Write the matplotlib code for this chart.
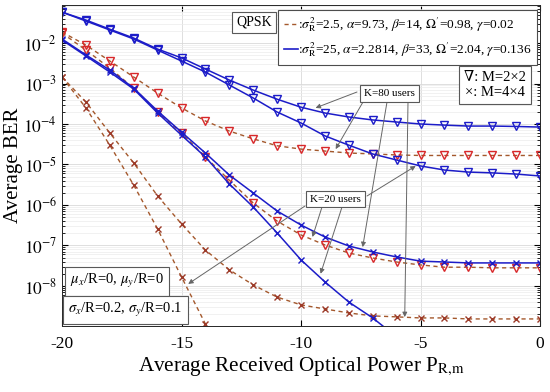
import numpy as np
import matplotlib
matplotlib.use('Agg')
import matplotlib.pyplot as plt
from matplotlib.lines import Line2D
from matplotlib.ticker import LogLocator, NullFormatter

plt.rcParams['font.family'] = ['Liberation Serif', 'DejaVu Serif']
plt.rcParams['mathtext.fontset'] = 'stix'
plt.rcParams['axes.unicode_minus'] = False

# 横轴: 平均接收光功率
power = np.arange(-20, 1)

# sigma_R^2 = 25 (实线, 蓝色)
blue_tri_k80 = [5.8e-2, 3.7e-2, 2.2e-2, 1.33e-2, 7.1e-3, 4.3e-3, 2.28e-3, 1.22e-3, 6.9e-4, 4.1e-4,
                2.6e-4, 1.87e-4, 1.49e-4, 1.26e-4, 1.12e-4, 1.0e-4, 9.4e-5, 8.9e-5, 8.9e-5, 8.7e-5, 8.4e-5]
blue_tri_k20 = [5.8e-2, 3.5e-2, 2.1e-2, 1.26e-2, 6.7e-3, 3.6e-3, 1.92e-3, 9.2e-4, 4.4e-4, 1.98e-4,
                1.06e-4, 5.1e-5, 3.0e-5, 1.82e-5, 1.29e-5, 9.2e-6, 7.3e-6, 6.5e-6, 6.2e-6, 5.8e-6, 5.2e-6]
blue_x_k80 = [1.26e-2, 5.1e-3, 2.15e-3, 7.7e-4, 2.1e-4, 6.3e-5, 1.92e-5, 5.5e-6, 1.98e-6, 7.1e-7,
              3.2e-7, 1.62e-7, 9.7e-8, 6.9e-8, 5.2e-8, 4.1e-8, 3.9e-8, 3.7e-8, 3.7e-8, 3.7e-8, 3.7e-8]
blue_x_k20 = [1.19e-2, 4.8e-3, 1.92e-3, 7.3e-4, 1.87e-4, 5.3e-5, 1.53e-5, 3.3e-6, 8.9e-7, 2.04e-7,
              4.4e-8, 1.26e-8, 4.0e-9, 1.62e-9, 5.5e-10]

# sigma_R^2 = 2.5 (虚线, 红棕色)
red_tri_k80 = [1.87e-2, 8.9e-3, 3.6e-3, 1.45e-3, 5.8e-4, 2.5e-4, 1.19e-4, 6.7e-5, 4.3e-5, 2.9e-5,
               2.4e-5, 2.15e-5, 1.92e-5, 1.82e-5, 1.72e-5, 1.67e-5, 1.67e-5, 1.67e-5, 1.67e-5, 1.67e-5, 1.67e-5]
red_tri_k20 = [1.77e-2, 6.7e-3, 2.4e-3, 7.7e-4, 1.98e-4, 6.0e-5, 1.53e-5, 4.1e-6, 1.12e-6, 4.0e-7,
               1.82e-7, 1.03e-7, 6.5e-8, 4.9e-8, 3.9e-8, 3.3e-8, 2.9e-8, 2.9e-8, 2.8e-8, 2.8e-8, 2.8e-8]
red_x_k80 = [1.45e-3, 3.5e-4, 6.0e-5, 1.09e-5, 1.67e-6, 3.4e-7, 7.7e-8, 2.5e-8, 1.06e-8, 5.3e-9,
             3.4e-9, 2.7e-9, 2.15e-9, 1.82e-9, 1.72e-9, 1.62e-9, 1.62e-9, 1.53e-9, 1.53e-9, 1.53e-9, 1.53e-9]
red_x_k20 = [1.45e-3, 2.5e-4, 3.0e-5, 3.1e-6, 2.55e-7, 1.67e-8, 1.15e-9, 7.6e-11]

yticks = [1e-2, 1e-3, 1e-4, 1e-5, 1e-6, 1e-7, 1e-8]
ytick_labels = ['$10^{-%d}$' % k for k in range(2, 9)]
xticks = [-20, -15, -10, -5, 0]
xtick_labels = ['-20', '-15', '-10', '-5', '0']

legend_labels = [r':$\sigma^2_\mathrm{R}$=2.5, $\alpha$=9.73, $\beta$=14, $\Omega^{\prime}$=0.98, $\gamma$=0.02',
                 r':$\sigma^2_\mathrm{R}$=25, $\alpha$=2.2814, $\beta$=33, $\Omega^{\prime}$=2.04, $\gamma$=0.136']

blue = '#1c1cc8'
brown = '#a4582c'
red = '#d8282a'
darkred = '#9c3a28'

fig = plt.figure(figsize=(5.5, 3.92), dpi=100)
ax = fig.add_axes([62/550, 1-326/392, 478/550, 321/392])

def px(x, y):
    # 像素位置 -> 坐标轴比例
    return ((x - 62) / 478, (326 - y) / 321)

# 先画红色虚线, 再画蓝色实线
for vals in [red_tri_k80, red_tri_k20]:
    ax.plot(power[:len(vals)], vals, '--', color=brown, lw=1.0, dashes=(3, 2.5),
            marker='v', ms=5.5, mec=red, mfc='none', mew=1.0)
for vals in [red_x_k80, red_x_k20]:
    ax.plot(power[:len(vals)], vals, '--', color=brown, lw=1.0, dashes=(3, 2.5),
            marker='x', ms=5, mec=darkred, mew=1.0)
for vals in [blue_tri_k80, blue_tri_k20]:
    ax.plot(power[:len(vals)], vals, '-', color=blue, lw=1.1,
            marker='v', ms=5.5, mec=blue, mfc='none', mew=1.0)
for vals in [blue_x_k80, blue_x_k20]:
    ax.plot(power[:len(vals)], vals, '-', color=blue, lw=1.1,
            marker='x', ms=5, mec=blue, mew=1.0)

ax.set_yscale('log')
ax.set_xlim(-20, 0)
ax.set_ylim(10**-8.99, 10**-1.06)
ax.set_yticks(yticks)
ax.set_yticklabels(ytick_labels)
ax.yaxis.set_minor_locator(LogLocator(base=10, subs=np.arange(2, 10), numticks=30))
ax.yaxis.set_minor_formatter(NullFormatter())
ax.set_xticks(xticks)
ax.set_xticklabels(xtick_labels)
ax.tick_params(which='both', direction='in', top=True, right=True, labelsize=12.5)
ax.tick_params(which='major', length=4)
ax.tick_params(axis='x', which='major', pad=7)
ax.tick_params(which='minor', length=2)
ax.grid(True, which='major', color='0.85', lw=0.6)
ax.grid(True, which='minor', axis='y', color='0.92', lw=0.5)
for s in ax.spines.values():
    s.set_color('0.15')
    s.set_linewidth(0.7)

ax.set_xlabel(r'Average Received Optical Power P$_{\mathrm{R{,}m}}$', fontsize=15.2, labelpad=3)
ax.set_ylabel('Average BER', fontsize=15, labelpad=0)

# 图例
handles = [Line2D([], [], color=brown, ls='--', lw=1.0, dashes=(3, 2.5)),
           Line2D([], [], color=blue, ls='-', lw=1.2)]
leg = ax.legend(handles, legend_labels, loc='upper right', bbox_to_anchor=px(537, 10),
                fontsize=9.6, handlelength=1.1, handletextpad=0.0, borderpad=0.4,
                labelspacing=0.5, fancybox=False, framealpha=1, edgecolor='0.3', borderaxespad=0)
leg.get_frame().set_linewidth(0.8)

box = dict(boxstyle='square,pad=0.3', fc='white', ec='0.35', lw=0.8)
ax.text(*px(254, 22.5), 'QPSK', transform=ax.transAxes, ha='center', va='center', fontsize=10, bbox=box)
ax.text(*px(495, 85), '\u2207: M=2\u00d72\n\u00d7: M=4\u00d74', transform=ax.transAxes, ha='center',
        va='center', fontsize=10.5, linespacing=1.2, bbox=dict(boxstyle='square,pad=0.35', fc='white', ec='0.35', lw=0.8))
ax.text(*px(117, 281.5), r'$\mu_x$/R=0, $\mu_y$/R=0', transform=ax.transAxes, ha='center', va='center',
        fontsize=10.5, bbox=dict(boxstyle='square,pad=0.35', fc='white', ec='0.35', lw=0.8))
ax.text(*px(125.5, 310), r'$\sigma_x$/R=0.2, $\sigma_y$/R=0.1', transform=ax.transAxes, ha='center', va='center',
        fontsize=10.5, bbox=dict(boxstyle='square,pad=0.35', fc='white', ec='0.35', lw=0.8))

# K=80 / K=20 标注
arrow = dict(arrowstyle='-|>', color='0.4', lw=0.7, mutation_scale=7, shrinkA=0, shrinkB=0)
k80_tips = [(-9.39, 2.5e-4), (-8.55, 2.4e-5), (-7.42, 9.1e-8), (-5.66, 1.7e-9)]
k80_tails = [(357, 92), (363, 102), (387, 102), (408, 102)]
for tip, tail in zip(k80_tips, k80_tails):
    ax.annotate('', xy=tip, xycoords='data', xytext=px(*tail), textcoords='axes fraction', arrowprops=arrow)
k20_tips = [(-5.2, 9.2e-6), (-14.72, 1.12e-8), (-9.52, 1.62e-7), (-9.18, 2.0e-8)]
k20_tails = [(367, 196), (305, 206), (322, 207), (342, 207)]
for tip, tail in zip(k20_tips, k20_tails):
    ax.annotate('', xy=tip, xycoords='data', xytext=px(*tail), textcoords='axes fraction', arrowprops=arrow)

small_box = dict(boxstyle='square,pad=0.35', fc='white', ec='0.35', lw=0.8)
ax.text(*px(389.5, 93.5), 'K=80 users', transform=ax.transAxes, ha='center', va='center', fontsize=8, bbox=small_box)
ax.text(*px(335.5, 199), 'K=20 users', transform=ax.transAxes, ha='center', va='center', fontsize=8, bbox=small_box)

fig.savefig('out.png', dpi=100)
